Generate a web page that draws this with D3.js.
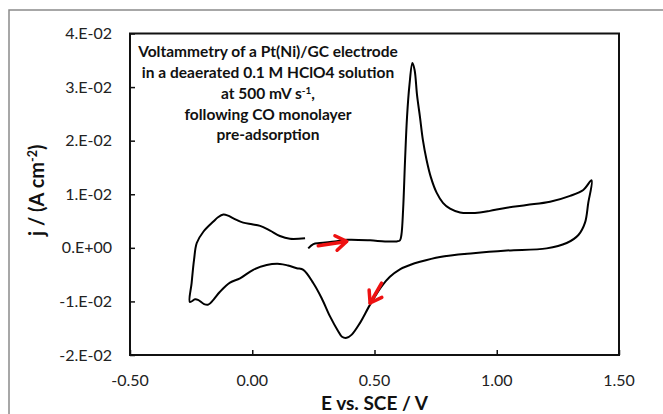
<!DOCTYPE html>
<html><head><meta charset="utf-8">
<script src="https://cdn.jsdelivr.net/npm/d3@7"></script>
<style>body{margin:0;background:#fff;} svg{display:block;font-family:Lato,"Open Sans",sans-serif;}</style>
</head><body>
<svg id="c" width="663" height="414"></svg>
<script>
// Potential (V vs SCE) and current density (A cm-2), in scan order
const potential = [0.229,0.250,0.277,0.338,0.388,0.482,0.543,0.591,0.604,0.610,0.617,0.625,0.633,0.643,0.655,0.664,0.674,0.686,0.698,0.713,0.731,0.754,0.780,0.809,0.850,0.891,0.931,0.972,1.041,1.122,1.218,1.300,1.354,1.388,
1.374,1.361,1.334,1.286,1.204,1.041,0.904,0.768,0.686,0.645,0.604,0.563,0.529,0.482,0.441,0.407,0.386,0.367,0.352,0.318,0.284,0.250,0.209,0.182,0.146,0.113,0.059,0.004,-0.050,-0.091,-0.132,-0.159,-0.180,-0.197,-0.222,-0.234,-0.255,
-0.248,-0.238,-0.227,-0.200,-0.159,-0.140,-0.118,-0.099,-0.077,-0.037,-0.001,0.032,0.073,0.113,0.154,0.216];
const current = [-0.0001,0.0007,0.0009,0.0012,0.0015,0.0014,0.0012,0.0012,0.0014,0.0024,0.0071,0.0164,0.0244,0.0304,0.0345,0.0332,0.0285,0.0244,0.0201,0.0164,0.0131,0.0103,0.0084,0.0073,0.0066,0.0065,0.0066,0.0069,0.0075,0.0080,0.0086,0.0097,0.0108,0.0126,
0.0083,0.0047,0.0024,0.0009,-0.0001,-0.0005,-0.0010,-0.0017,-0.0026,-0.0032,-0.0040,-0.0054,-0.0072,-0.0106,-0.0140,-0.0162,-0.0168,-0.0166,-0.0156,-0.0128,-0.0094,-0.0066,-0.0041,-0.0038,-0.0033,-0.0030,-0.0032,-0.0041,-0.0057,-0.0065,-0.0082,-0.0097,-0.0106,-0.0105,-0.0097,-0.0096,-0.0101,
-0.0066,-0.0022,0.0009,0.0030,0.0049,0.0057,0.0062,0.0060,0.0055,0.0047,0.0044,0.0041,0.0032,0.0022,0.0017,0.0018];
const xTicks = [-0.5,0,0.5,1.0,1.5];
const xTickLabels = ["-0.50","0.00","0.50","1.00","1.50"];
const yTicks = [-0.02,-0.01,0,0.01,0.02,0.03,0.04];
const yTickLabels = ["-2.E-02","-1.E-02","0.E+00","1.E-02","2.E-02","3.E-02","4.E-02"];
const noteLines = ["Voltammetry of a Pt(Ni)/GC electrode","in a deaerated 0.1 M HClO4 solution","at 500 mV s","following CO monolayer","pre-adsorption"];
// scan-direction arrows: [E tail, j tail, E tip, j tip]
const arrows = [[0.270,0.0004,0.386,0.0012],[0.529,-0.0066,0.482,-0.0103]];

const svg = d3.select("#c");
const L=130,R=619,T=33.5,B=355;
const x = d3.scaleLinear().domain([-0.5,1.5]).range([L,R]);
const y = d3.scaleLinear().domain([-0.02,0.04]).range([B,T]);

// outer frame
svg.append("rect").attr("x",9).attr("y",10).attr("width",700).attr("height",500)
  .attr("fill","none").attr("stroke","#8a8a8a").attr("stroke-width",1.5);

// plot box
svg.append("rect").attr("x",L).attr("y",T).attr("width",R-L).attr("height",B-T)
  .attr("fill","none").attr("stroke","#111").attr("stroke-width",2);

// y axis ticks & labels
const ya = svg.append("g").attr("transform",`translate(${L},0)`)
  .call(d3.axisRight(y).tickValues(yTicks).tickSize(5).tickFormat(""));
ya.select(".domain").remove();
ya.selectAll("line").attr("stroke","#111").attr("stroke-width",1.5);
svg.append("g").selectAll("text").data(yTicks).join("text")
  .attr("x",112).attr("y",d=>y(d)+5.5).attr("text-anchor","end")
  .attr("font-size",16).attr("fill","#222").text((d,i)=>yTickLabels[i]);

// x axis ticks & labels
const xa = svg.append("g").attr("transform",`translate(0,${B})`)
  .call(d3.axisTop(x).tickValues(xTicks).tickSize(5).tickFormat(""));
xa.select(".domain").remove();
xa.selectAll("line").attr("stroke","#111").attr("stroke-width",1.5);
svg.append("g").selectAll("text").data(xTicks).join("text")
  .attr("x",d=>x(d)).attr("y",386).attr("text-anchor","middle")
  .attr("font-size",16).attr("fill","#222").text((d,i)=>xTickLabels[i]);

// axis titles
svg.append("text").attr("x",x(0.5)).attr("y",410).attr("text-anchor","middle")
  .attr("font-size",19).attr("font-weight","bold").attr("fill","#111").text("E vs. SCE / V");
const yt = svg.append("text").attr("transform",`translate(44,${y(0.01)-4}) rotate(-90)`)
  .attr("text-anchor","middle").attr("font-size",20).attr("font-weight","bold").attr("fill","#111");
yt.append("tspan").text("j / (A cm");
yt.append("tspan").attr("dy",-7).attr("font-size",12.5).text("-2");
yt.append("tspan").attr("dy",7).text(")");

// curve
const pts = potential.map((e,i)=>[e,current[i]]);
svg.append("path").datum(pts)
  .attr("d",d3.line().x(d=>x(d[0])).y(d=>y(d[1])).curve(d3.curveCatmullRom.alpha(0.5)))
  .attr("fill","none").attr("stroke","#000").attr("stroke-width",2);

// arrows
arrows.forEach(a=>{
  const x1=x(a[0]),y1=y(a[1]),x2=x(a[2]),y2=y(a[3]);
  const ang=Math.atan2(y2-y1,x2-x1), hl=13, ha=0.6;
  svg.append("line").attr("x1",x1).attr("y1",y1).attr("x2",x2).attr("y2",y2)
    .attr("stroke","#ee1111").attr("stroke-width",3.5).attr("stroke-linecap","round");
  const p1=[x2-hl*Math.cos(ang-ha),y2-hl*Math.sin(ang-ha)];
  const p2=[x2-hl*Math.cos(ang+ha),y2-hl*Math.sin(ang+ha)];
  svg.append("path").attr("d",`M${p1}L${x2},${y2}L${p2}`)
    .attr("fill","none").attr("stroke","#ee1111").attr("stroke-width",3.5)
    .attr("stroke-linecap","round").attr("stroke-linejoin","round");
});

// annotation
const ny=[57,78,99,120,140];
noteLines.forEach((t,i)=>{
  const tx=svg.append("text").attr("x",268).attr("y",ny[i]).attr("text-anchor","middle")
    .attr("font-size",15.5).attr("font-weight","bold").attr("fill","#111");
  if(i===2){
    tx.append("tspan").text(t);
    tx.append("tspan").attr("dy",-5).attr("font-size",10).text("-1");
    tx.append("tspan").attr("dy",5).text(",");
  } else tx.text(t);
});
</script>
</body></html>
